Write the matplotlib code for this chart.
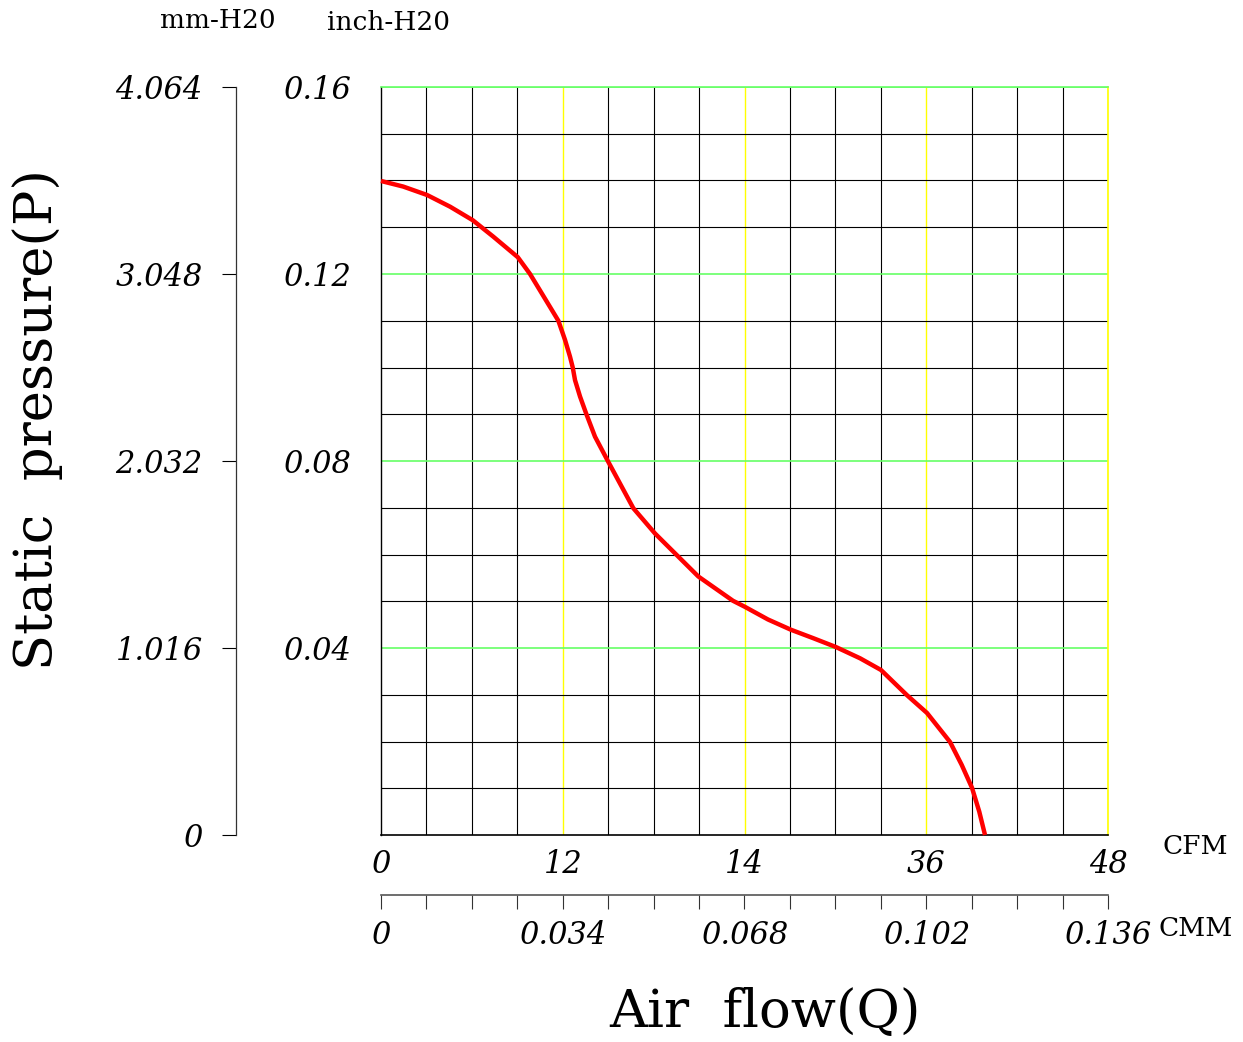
import matplotlib
matplotlib.use("Agg")
import matplotlib.pyplot as plt
from matplotlib.font_manager import FontProperties
import numpy as np

# fan P-Q curve (flow in CFM, pressure in inch-H2O)
flow_cfm = [0.0, 1.47, 3.04, 4.56, 6.06, 7.41, 9.03, 9.84, 10.72, 11.71,
            12.15, 12.48, 12.66, 12.81, 13.14, 13.54, 14.13, 15.01, 16.66,
            18.09, 19.52, 20.95, 23.24, 24.03, 25.55, 27.07, 28.54, 30.04,
            31.63, 33.01, 34.73, 36.05, 37.57, 38.34, 39.02, 39.50, 39.88]
press_inch = [0.1399, 0.1387, 0.1369, 0.1344, 0.1315, 0.1280, 0.1236, 0.1200,
              0.1153, 0.1100, 0.1059, 0.1023, 0.1000, 0.0973, 0.0938, 0.0902,
              0.0852, 0.0798, 0.0699, 0.0645, 0.0599, 0.0553, 0.0501, 0.0488,
              0.0461, 0.0439, 0.0421, 0.0402, 0.0378, 0.0353, 0.0299, 0.0261,
              0.0199, 0.0150, 0.0101, 0.0050, 0.0]

cfm_ticks = [0, 12, 24, 36, 48]
cfm_labels = ["0", "12", "14", "36", "48"]
cmm_ticks = [0, 0.034, 0.068, 0.102, 0.136]
cmm_labels = ["0", "0.034", "0.068", "0.102", "0.136"]
inch_ticks = [0, 0.04, 0.08, 0.12, 0.16]
inch_labels = ["", "0.04", "0.08", "0.12", "0.16"]
mm_ticks = [0, 1.016, 2.032, 3.048, 4.064]
mm_labels = ["0", "1.016", "2.032", "3.048", "4.064"]

NUM = dict(family="DejaVu Serif", style="italic", size=22)
LBL = dict(family="DejaVu Serif", size=38)
UNIT = dict(family="DejaVu Serif", size=19)

GREEN = "#66ff66"
YELLOW = "#ffff00"

fig = plt.figure(figsize=(12.43, 10.42), dpi=100)
ax = fig.add_axes([381 / 1243, 1 - 835 / 1042, 727 / 1243, 748 / 1042])
ax.set_xlim(0, 48)
ax.set_ylim(0, 0.16)

# grid: black every cell, yellow / green every 4th line
ax.set_xticks(np.arange(0, 49, 3), minor=True)
ax.set_yticks(np.arange(0, 0.1601, 0.01), minor=True)
ax.set_xticks(cfm_ticks, cfm_labels)
ax.set_yticks(inch_ticks, inch_labels)
ax.grid(which="minor", color="black", lw=0.8)
ax.grid(which="major", axis="x", color=YELLOW, lw=1.0)
ax.grid(which="major", axis="y", color=GREEN, lw=1.2)
ax.xaxis.get_major_ticks()[0].gridline.set_visible(False)
ax.yaxis.get_major_ticks()[0].gridline.set_visible(False)
ax.set_axisbelow(True)
ax.tick_params(which="both", length=0)
ax.tick_params(axis="x", pad=10)
ax.tick_params(axis="y", pad=22)
for lab in ax.get_xticklabels() + ax.get_yticklabels():
    lab.set_fontproperties(FontProperties(**NUM))
ax.spines["top"].set_color(GREEN)
ax.spines["top"].set_linewidth(1.2)
ax.spines["right"].set_color(YELLOW)
ax.spines["right"].set_linewidth(1.2)
ax.spines["left"].set_color("black")
ax.spines["left"].set_linewidth(1.0)
ax.spines["bottom"].set_color("black")
ax.spines["bottom"].set_linewidth(1.2)

ax.plot(flow_cfm, press_inch, color="#ff0000", lw=3.2, solid_capstyle="butt",
        solid_joinstyle="round", zorder=5, clip_on=False)

# mm-H2O axis on the far left
sy = ax.secondary_yaxis(-145 / 727, functions=(lambda p: p * 25.4, lambda m: m / 25.4))
sy.set_yticks(mm_ticks, mm_labels)
sy.tick_params(direction="out", length=10, width=0.8, pad=14, color="black")
sy.spines["left"].set_color("#333333")
sy.spines["left"].set_linewidth(0.9)
for lab in sy.get_yticklabels():
    lab.set_fontproperties(FontProperties(**NUM))

# CMM axis below
sx = ax.secondary_xaxis(-60 / 748, functions=(lambda q: q * 0.136 / 48, lambda c: c * 48 / 0.136))
sx.set_xticks(cmm_ticks, cmm_labels)
sx.set_xticks(np.arange(0, 0.1361, 0.0085), minor=True)
sx.tick_params(which="both", direction="out", length=10, width=0.8, pad=8, color="#333333")
sx.spines["bottom"].set_color("#555555")
sx.spines["bottom"].set_linewidth(1.2)
for lab in sx.get_xticklabels():
    lab.set_fontproperties(FontProperties(**NUM))

fig.text(1195 / 1243, 1 - 846 / 1042, "CFM", ha="center", va="center", **UNIT)
fig.text(1196 / 1243, 1 - 929 / 1042, "CMM", ha="center", va="center", **UNIT)
fig.text(218 / 1243, 1 - 20 / 1042, "mm-H20", ha="center", va="center", **UNIT)
fig.text(388 / 1243, 1 - 22 / 1042, "inch-H20", ha="center", va="center", **UNIT)
fig.text(38 / 1243, 1 - 420 / 1042, "Static  pressure(P)", rotation=90,
         ha="center", va="center", **LBL)
fig.text(765 / 1243, 1 - 1012 / 1042, "Air  flow(Q)", ha="center", va="center", **LBL)

fig.savefig("out.png", dpi=100)
